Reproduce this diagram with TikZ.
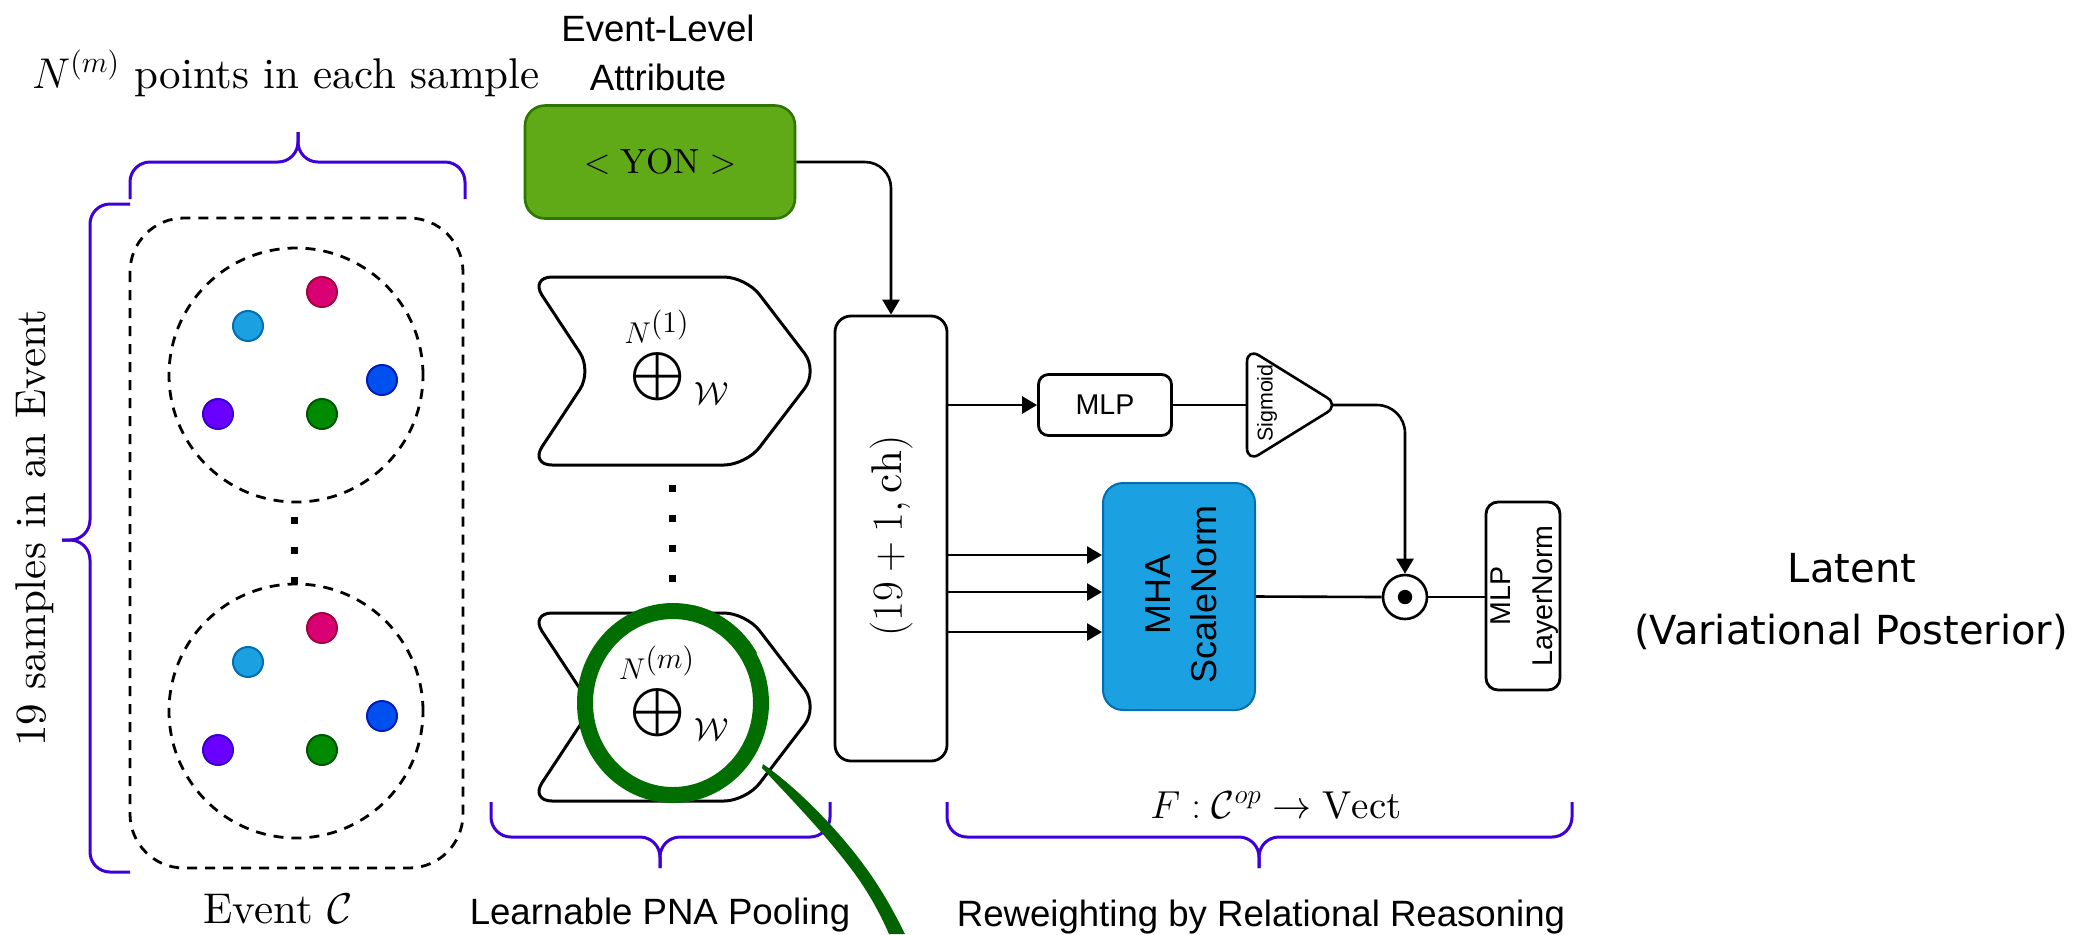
\RequirePackage{fix-cm}
\documentclass[tikz,border=0pt]{standalone}
\usepackage{exscale}
\usepackage{fontspec}
\setmainfont{lmroman10-regular.otf}[ItalicFont=lmroman10-italic.otf,
  BoldFont=lmroman10-bold.otf, BoldItalicFont=lmroman10-bolditalic.otf]
\usetikzlibrary{arrows.meta,calc}
\newfontfamily\arialf{Liberation Sans}
\newfontfamily\comicf{DejaVu Sans}
\newcommand\setfs[2]{\fontsize{#1pt}{#2pt}\selectfont}

\definecolor{braceblue}{RGB}{62,0,216}
\definecolor{yonfill}{HTML}{60A917}
\definecolor{yondraw}{HTML}{2D7600}
\definecolor{mhafill}{HTML}{1BA1E2}
\definecolor{mhadraw}{HTML}{006EAF}
\definecolor{cmag}{HTML}{D80073}\definecolor{cmagd}{HTML}{A50040}
\definecolor{ccya}{HTML}{1BA1E2}\definecolor{ccyad}{HTML}{006EAF}
\definecolor{cblu}{HTML}{0050EF}\definecolor{cblud}{HTML}{001DBC}
\definecolor{cpur}{HTML}{6A00FF}\definecolor{cpurd}{HTML}{3700CC}
\definecolor{cgrn}{HTML}{008A00}\definecolor{cgrnd}{HTML}{005700}
\definecolor{inkgreen}{RGB}{0,110,0}

\begin{document}
\begin{tikzpicture}[x=0.5pt, y=-0.5pt, line join=round,
  conn/.style={draw=black, line width=1.3pt},
  arr/.style={conn, -{Triangle[length=7.5pt,width=8.5pt]}},
  brc/.style={draw=braceblue, line width=1.5pt, rounded corners=10pt},
  dsh/.style={draw=black, line width=1.4pt, dash pattern=on 5pt off 4pt},
  sq/.style={draw=black, line width=3.5pt, dash pattern=on 3.5pt off 11.5pt},
  ptdot/.style={circle, minimum size=15pt, inner sep=0pt, line width=1pt},
  blk/.style={draw=black, line width=1.4pt, inner sep=0pt},
  chev/.style={draw=black, line width=1.5pt, rounded corners=11pt},
  lmtxt/.style={font=\setfs{21.5}{26}},
  sans18/.style={font=\arialf\setfs{18.3}{22}},
  ring/.style={draw=inkgreen, line width=8pt}]

\useasboundingbox (0,0) rectangle (2083,934);

% ---------- event: samples of points ----------
\node[lmtxt, anchor=base] (toplbl) at (286,88) {$N^{(m)}$ points in each sample};
\draw[brc] (130,199) -- (130,162) -- (298,162) -- (298,132);
\draw[brc] (465,199) -- (465,162) -- (298,162) -- (298,132);

\node[lmtxt, rotate=90] (leftlbl) at (35,528) {19 samples in an Event};
\draw[brc] (130,204) -- (90,204) -- (90,540) -- (62,540);
\draw[brc] (130,872) -- (90,872) -- (90,540) -- (62,540);

\draw[dsh, rounded corners=27pt] (130,218) rectangle (463,868);
\draw[dsh] (296,375) circle (63.5pt);
\draw[dsh] (296,711) circle (63.5pt);
\draw[sq] (294,516.5) -- (294,584);

\foreach \dy/\s in {0/a,336/b}{
  \node[ptdot, fill=cmag, draw=cmagd] (mag\s) at (322,292+\dy) {};
  \node[ptdot, fill=ccya, draw=ccyad] (cya\s) at (248,326+\dy) {};
  \node[ptdot, fill=cblu, draw=cblud] (blu\s) at (382,380+\dy) {};
  \node[ptdot, fill=cpur, draw=cpurd] (pur\s) at (218,414+\dy) {};
  \node[ptdot, fill=cgrn, draw=cgrnd] (grn\s) at (322,414+\dy) {};
}
\node[lmtxt, anchor=base] (evc) at (278,923) {Event $\mathcal{C}$};

% ---------- event-level attribute ----------
\node[sans18, anchor=base] (evl) at (658,41) {Event-Level};
\node[sans18, anchor=base] (attr) at (658,90) {Attribute};
\node[draw=yondraw, fill=yonfill, line width=1.3pt, rounded corners=10pt,
      minimum width=135pt, minimum height=56.5pt, inner sep=0pt,
      font=\setfs{17.5}{20}] (yon) at (660,162) {$<\mathrm{YON}>$};

% ---------- PNA pooling blocks ----------
\foreach \dy/\s/\sup in {0/a/1,336/b/m}{
  \draw[chev] (640,277+\dy) -- (746,277+\dy) -- (818,371+\dy) -- (746,465+\dy)
              -- (530,465+\dy) -- (592,371+\dy) -- (530,277+\dy) -- cycle;
  \node[font=\setfs{17}{20}, inner sep=0pt, text height=15.5pt, text depth=7pt]
       (op\s) at (658,377+\dy) {$\displaystyle\bigoplus$};
  \node[font=\setfs{15}{18}, inner sep=0pt, text depth=0pt, anchor=base] (agg\s) at (657,343+\dy) {$N^{\textstyle(\sup)}$};
  \node[font=\setfs{16}{18}, inner sep=0pt] (wt\s) at (712,394+\dy) {$\mathcal{W}$};
}
\draw[sq] (672,484.5) -- (672,582);
\draw[brc] (491,802) -- (491,837) -- (660,837) -- (660,868);
\draw[brc] (830,802) -- (830,837) -- (660,837) -- (660,868);
\node[sans18, anchor=base] (pna) at (660,924) {Learnable PNA Pooling};

% ---------- stacked features ----------
\node[blk, rounded corners=8pt, minimum width=56pt, minimum height=222.5pt] (col) at (891,538.5) {};
\node[rotate=90, font=\setfs{21.5}{24}] (coltxt) at (891,536) {$(19+1,\mathrm{ch})$};
\draw[arr, rounded corners=13pt] (yon.east) -| (col.north);

% ---------- gating branch ----------
\node[blk, rounded corners=5pt, minimum width=66.5pt, minimum height=30.5pt,
      font=\arialf\setfs{14.3}{17}] (mlp) at (1105,405) {MLP};
\draw[arr] (col.east |- mlp.west) -- (mlp.west);

\coordinate (sigin) at (1247,405);
\coordinate (sigout) at (1333,405);
\draw[conn, rounded corners=7pt] (1247,405) -- (1247,348) -- (1339,405) -- (1247,462) -- cycle;
\node[rotate=90, font=\arialf\setfs{10.7}{13}] (sigtxt) at (1267,403) {Sigmoid};
\draw[conn] (mlp.east) -- (sigin);

\node[circle, draw=black, line width=1.3pt, minimum size=22pt, inner sep=0pt] (odot) at (1405,597) {};
\fill[black] (odot.center) circle (3.6pt);
\draw[arr, rounded corners=14pt] (sigout) -| (odot.north);

% ---------- attention branch ----------
\node[draw=mhadraw, fill=mhafill, line width=1pt, rounded corners=10pt,
      minimum width=76pt, minimum height=113.5pt] (mha) at (1179,596.5) {};
\node[rotate=90, align=center, font=\arialf\setfs{18}{23}] (mhatxt) at (1181,594) {MHA\\ScaleNorm};
\foreach \yy in {555,592,632}
  \draw[arr] (col.east |- 0,\yy) -- (mha.west |- 0,\yy);
\draw[conn] (mha.east) -- (odot.west);

\node[blk, rounded corners=6pt, minimum width=37pt, minimum height=94pt] (ln) at (1523,596) {};
\node[rotate=90, align=center, font=\arialf\setfs{14.3}{21}] (lntxt) at (1525,596) {MLP\\LayerNorm};
\draw[conn] (odot.east) -- (odot.east -| ln.west);

\draw[brc] (947,802) -- (947,837) -- (1259,837) -- (1259,868);
\draw[brc] (1572,802) -- (1572,837) -- (1259,837) -- (1259,868);
\node[font=\setfs{19.5}{24}, anchor=base] (flbl) at (1276,818) {$F:\mathcal{C}^{op}\to\mathrm{Vect}$};
\node[sans18, anchor=base] (rw) at (1261,926) {Reweighting by Relational Reasoning};

% ---------- output ----------
\node[font=\comicf\setfs{20}{24}, anchor=base] (lat1) at (1852,582) {Latent};
\node[font=\comicf\setfs{20}{24}, anchor=base] (lat2) at (1851,644) {(Variational Posterior)};

% ---------- hand-drawn highlight ----------
\draw[ring] (673,703) ellipse [x radius=88, y radius=92];
\draw[ring, line width=5pt] (673,703) ++(-78:92 and 95) arc[start angle=-78, end angle=-30, x radius=92, y radius=95];
\fill[inkgreen!90!black] (763,764) .. controls (800,790) and (840,832) .. (866,868)
   .. controls (882,890) and (894,912) .. (905,934) -- (889,934)
   .. controls (880,913) and (868,892) .. (855,874)
   .. controls (830,840) and (798,806) .. (762,768) -- cycle;
\end{tikzpicture}
\end{document}
